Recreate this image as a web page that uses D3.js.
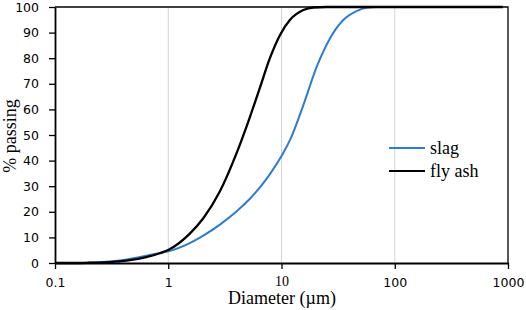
<!DOCTYPE html>
<html>
<head>
<meta charset="utf-8">
<script src="https://cdn.jsdelivr.net/npm/d3@7"></script>
<style>
  html, body { margin: 0; padding: 0; background: #fff; }
  svg { display: block; }
</style>
</head>
<body>
<svg id="chart" width="526" height="310"></svg>
<script>
// ---- data ----
const seriesNames = ["slag", "fly ash"];
const seriesColors = ["#2e7bcf", "#000000"];

const slagDiam = [0.1, 0.15, 0.2, 0.3, 0.43, 0.64, 0.84, 1.0, 1.55, 2.04, 2.86, 4.02, 5.26, 6.45, 7.9, 10, 11.9, 15.6, 20.4, 26.7, 35.1, 46.0, 56.4, 70, 100, 300, 900];
const slagPass = [0, 0, 0.15, 0.55, 1.4, 2.8, 3.9, 4.6, 7.8, 10.7, 15.0, 20.2, 25.1, 29.5, 34.7, 41.8, 48.1, 61.7, 76.5, 87.6, 94.9, 98.4, 99.7, 100, 100, 100, 100];

const flyDiam = [0.1, 0.15, 0.2, 0.3, 0.43, 0.64, 0.84, 1.0, 1.55, 2.04, 2.86, 4.02, 5.26, 6.45, 7.9, 9.68, 11.9, 15.6, 19.1, 25, 100, 300, 900];
const flyPass = [0, 0, 0.1, 0.35, 0.9, 2.3, 3.8, 5.1, 11.5, 17.5, 28, 43, 57, 68.5, 80, 89, 95, 98.8, 99.8, 100, 100, 100, 100];

const xTicks = [0.1, 1, 10, 100, 1000];
const xTickLabels = ["0.1", "1", "10", "100", "1000"];
const yTicks = [0, 10, 20, 30, 40, 50, 60, 70, 80, 90, 100];
const gridValues = [1, 10, 100];

const xTitle = "Diameter (\u00b5m)";
const yTitle = "% passing";

// ---- chart ----
(function () {
const svg = d3.select("#chart");
const mL = 55, mR = 508, mT = 7, mB = 263;

const x = d3.scaleLog().domain([0.1, 1000]).range([mL, mR]);
const y = d3.scaleLinear().domain([0, 100]).range([mB, mT]);

// gridlines
svg.append("g").selectAll("line").data(gridValues).join("line")
  .attr("x1", d => x(d)).attr("x2", d => x(d))
  .attr("y1", mT).attr("y2", mB)
  .attr("stroke", "#d4d4d4").attr("stroke-width", 1);

// frame (top & right)
svg.append("path")
  .attr("d", `M${mL},${mT}H${mR}V${mB}`)
  .attr("fill", "none").attr("stroke", "#000").attr("stroke-width", 1.3);

// series
const line = d3.line()
  .x(d => x(d[0])).y(d => y(d[1]))
  .curve(d3.curveMonotoneX);

const slagData = slagDiam.map((d, i) => [d, slagPass[i]]);
const flyData = flyDiam.map((d, i) => [d, flyPass[i]]);

svg.append("path").datum(slagData)
  .attr("d", line).attr("fill", "none")
  .attr("stroke", seriesColors[0]).attr("stroke-width", 2);
svg.append("path").datum(flyData)
  .attr("d", line).attr("fill", "none")
  .attr("stroke", seriesColors[1]).attr("stroke-width", 2.3);

// axes
const xAxis = d3.axisBottom(x)
  .tickValues(xTicks)
  .tickFormat((d, i) => xTickLabels[i])
  .tickSizeInner(6).tickSizeOuter(0).tickPadding(9);
const gx = svg.append("g").attr("transform", `translate(0,${mB})`).call(xAxis);

const yAxis = d3.axisLeft(y)
  .tickValues(yTicks)
  .tickSizeInner(6).tickSizeOuter(0).tickPadding(10);
const gy = svg.append("g").attr("transform", `translate(${mL},0)`).call(yAxis);

[gx, gy].forEach(g => {
  g.select(".domain").attr("stroke", "#000").attr("stroke-width", 1.8);
  g.selectAll(".tick line").attr("stroke", "#000").attr("stroke-width", 1.3);
  g.selectAll(".tick text")
    .attr("fill", "#000")
    .style("font-family", "'DejaVu Sans', Verdana, sans-serif")
    .style("font-size", "12.5px");
});
// the "10" label in the reference is set in a serif face
gx.selectAll(".tick text").filter(d => d === 10)
  .attr("y", 13)
  .style("font-family", "'Liberation Serif', 'Times New Roman', serif")
  .style("font-size", "14px");

// axis titles
svg.append("text")
  .attr("x", (mL + mR) / 2 + 0.5).attr("y", 304)
  .attr("text-anchor", "middle")
  .style("font-family", "'Liberation Serif', 'Times New Roman', serif")
  .style("font-size", "18px")
  .text(xTitle);

svg.append("text")
  .attr("transform", `translate(16,136) rotate(-90)`)
  .attr("text-anchor", "middle")
  .style("font-family", "'Liberation Serif', 'Times New Roman', serif")
  .style("font-size", "18px")
  .text(yTitle);

// legend
const legendY = [148, 171];
const lg = svg.append("g");
seriesNames.forEach((name, i) => {
  lg.append("line")
    .attr("x1", 389).attr("x2", 425)
    .attr("y1", legendY[i]).attr("y2", legendY[i])
    .attr("stroke", seriesColors[i]).attr("stroke-width", 2.2);
  lg.append("text")
    .attr("x", 430).attr("y", legendY[i] + 6)
    .style("font-family", "'Liberation Serif', 'Times New Roman', serif")
    .style("font-size", "18px")
    .attr("fill", "#000")
    .text(name);
});
})();
</script>
</body>
</html>
